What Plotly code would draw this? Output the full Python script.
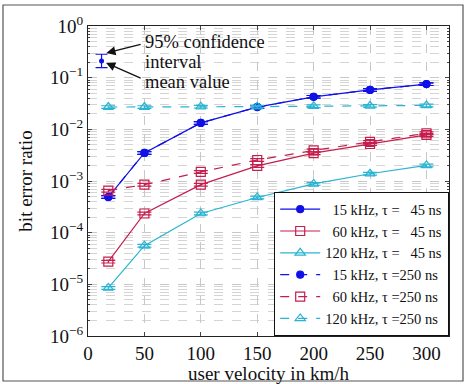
import plotly.graph_objects as go

velocity = [18, 50, 100, 150, 200, 250, 300]

ber_15k_45 = [4.9e-4, 3.5e-3, 1.33e-2, 2.7e-2, 4.26e-2, 5.8e-2, 7.5e-2]
ber_60k_45 = [2.75e-5, 2.35e-4, 8.5e-4, 1.96e-3, 3.45e-3, 5.2e-3, 7.8e-3]
ber_120k_45 = [8.5e-6, 5.6e-5, 2.35e-4, 4.8e-4, 8.8e-4, 1.38e-3, 2.0e-3]
ber_15k_250 = [4.9e-4, 3.5e-3, 1.33e-2, 2.7e-2, 4.26e-2, 5.8e-2, 7.5e-2]
ber_60k_250 = [6.5e-4, 8.5e-4, 1.5e-3, 2.55e-3, 3.9e-3, 5.7e-3, 8.4e-3]
ber_120k_250 = [2.7e-2, 2.7e-2, 2.75e-2, 2.75e-2, 2.8e-2, 2.85e-2, 2.9e-2]

example_x = [12]
example_y = [0.21]
example_hi = [0.284]
example_lo = [0.156]

ytick_vals = [1e-6, 1e-5, 1e-4, 1e-3, 1e-2, 1e-1, 1]
ytick_text = ["10<sup>−6</sup>", "10<sup>−5</sup>", "10<sup>−4</sup>", "10<sup>−3</sup>",
              "10<sup>−2</sup>", "10<sup>−1</sup>", "10<sup>0</sup>"]
xtick_vals = [0, 50, 100, 150, 200, 250, 300]

BLUE = "#1010e8"
RED = "#c41e4e"
CYAN = "#28b4d2"
FONT = "Liberation Serif"
SP = "\u2007"

series = [
    (f"{SP}15 kHz, τ = {SP}45 ns", ber_15k_45, BLUE, "circle", "solid", 1),
    (f"{SP}60 kHz, τ = {SP}45 ns", ber_60k_45, RED, "square-open", "solid", 2),
    (f"120 kHz, τ = {SP}45 ns", ber_120k_45, CYAN, "triangle-up-open", "solid", 3),
    (f"{SP}15 kHz, τ =250 ns", ber_15k_250, BLUE, "circle", "dash", 4),
    (f"{SP}60 kHz, τ =250 ns", ber_60k_250, RED, "square-open", "dash", 5),
    (f"120 kHz, τ =250 ns", ber_120k_250, CYAN, "triangle-up-open", "dash", 6),
]

# draw order: blue dashed first so the solid blue covers it
draw_order = [3, 0, 1, 2, 4, 5]

fig = go.Figure()
for i in draw_order:
    name, ys, col, sym, dash, rank = series[i]
    fig.add_trace(go.Scatter(
        x=velocity, y=ys, name=name, mode="lines+markers",
        line=dict(color=col, width=1.2, dash="dash" if dash == "dash" else "solid"),
        marker=dict(symbol=sym, size=9 if sym != "circle" else 7, color=col,
                    line=dict(color=col, width=1.2)),
        error_y=dict(type="data", array=[v * 0.06 for v in ys], arrayminus=[v * 0.06 for v in ys],
                     color=col, thickness=1.2, width=7),
        legendrank=rank,
    ))

fig.add_trace(go.Scatter(
    x=example_x, y=example_y, mode="markers", showlegend=False,
    marker=dict(symbol="circle", size=5, color=BLUE),
    error_y=dict(type="data", symmetric=False,
                 array=[example_hi[0] - example_y[0]],
                 arrayminus=[example_y[0] - example_lo[0]],
                 color=BLUE, thickness=1.2, width=6),
))

fig.update_layout(
    width=466, height=384,
    margin=dict(l=88, r=17, t=26, b=48),
    paper_bgcolor="white", plot_bgcolor="white",
    font=dict(family=FONT, size=19, color="#111"),
    showlegend=True,
    legend=dict(x=1, y=0, xanchor="right", yanchor="bottom",
                bordercolor="#111", borderwidth=1.2, bgcolor="white",
                font=dict(family=FONT, size=14.5), tracegroupgap=0,
                itemwidth=40, traceorder="normal"),
    xaxis=dict(range=[0, 320], tickvals=xtick_vals, ticks="inside", ticklen=4,
               showline=True, linecolor="#222", linewidth=1.2, mirror="ticks",
               showgrid=True, gridcolor="#c8c8c8", griddash="dash", gridwidth=1,
               zeroline=False, automargin=False,
               title=dict(text="user velocity in km/h", standoff=4, font=dict(size=19)),
               tickfont=dict(size=19)),
    yaxis=dict(type="log", range=[-6, 0], tickvals=ytick_vals, ticktext=ytick_text,
               ticks="inside", ticklen=4,
               showline=True, linecolor="#222", linewidth=1.2, mirror="ticks",
               showgrid=True, gridcolor="#c8c8c8", griddash="dash", gridwidth=1,
               minor=dict(showgrid=True, gridcolor="#d4d4d4", griddash="dash",
                          ticks="inside", ticklen=2, dtick="D1"),
               zeroline=False, automargin=False,
               title=dict(text="bit error ratio", standoff=12, font=dict(size=19)),
               tickfont=dict(size=19)),
)

# arrows to the example error bar (log axis annotations use log10 values)
fig.add_annotation(x=12, y=-0.547, xref="x", yref="y", ax=48, ay=-0.35, axref="x", ayref="y",
                   showarrow=True, arrowhead=2, arrowsize=1.4, arrowwidth=1.3, arrowcolor="#111", text="",
                   standoff=5)
fig.add_annotation(x=12, y=-0.678, xref="x", yref="y", ax=48, ay=-1.02, axref="x", ayref="y",
                   showarrow=True, arrowhead=2, arrowsize=1.4, arrowwidth=1.3, arrowcolor="#111", text="",
                   standoff=5)
for txt, px in [("95% confidence", 41), ("interval", 61), ("mean value", 81)]:
    fig.add_annotation(x=49, y=-(px - 26) / 51.67, xref="x", yref="y", xanchor="left", yanchor="middle",
                       text=txt, showarrow=False, align="left", font=dict(size=18.5),
                       height=17, valign="middle")

fig.add_shape(type="rect", xref="paper", yref="paper",
              x0=(3 - 88) / 361, x1=(463 - 88) / 361,
              y0=(336 - 381) / 310, y1=(336 - 5) / 310,
              line=dict(color="#555", width=1.2), layer="below")

fig.write_html("out.html")
